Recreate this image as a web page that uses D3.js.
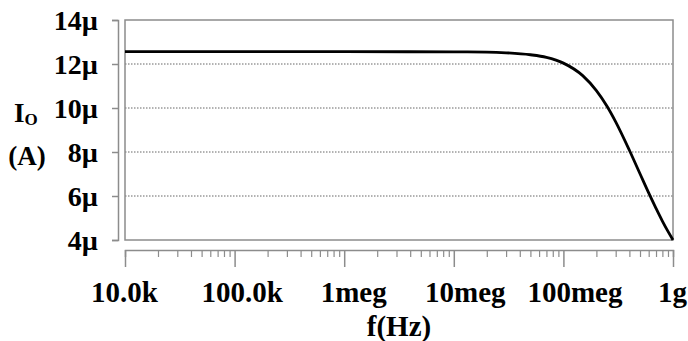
<!DOCTYPE html>
<html>
<head>
<meta charset="utf-8">
<script src="https://cdn.jsdelivr.net/npm/d3@7"></script>
<style>
  html, body { margin: 0; padding: 0; background: #fff; }
  svg { display: block; }
  svg text { font-family: "Liberation Serif", "Times New Roman", Times, serif !important; font-weight: bold; fill: #000; }
</style>
</head>
<body>
<svg id="chart" width="688" height="341"></svg>
<script>
// Output current magnitude vs. frequency (AC sweep)
const freqHz = [1e4, 1e5, 1e6, 1e7, 2e7, 3e7, 5e7, 7e7, 1e8, 1.5e8, 2e8, 2.5e8, 3e8, 4e8, 5e8, 6e8, 7e8, 8e8, 9e8, 1e9];
const ioMicroA = [12.56, 12.56, 12.56, 12.55, 12.54, 12.51, 12.42, 12.30, 12.04, 11.47, 10.79, 10.08, 9.37, 8.08, 7.01, 6.14, 5.44, 4.86, 4.39, 4.00];

const xTickValues = [1e4, 1e5, 1e6, 1e7, 1e8, 1e9];
const xTickLabels = ["10.0k", "100.0k", "1meg", "10meg", "100meg", "1g"];
const yTickValues = [4, 6, 8, 10, 12, 14];
const yTickLabels = ["4µ", "6µ", "8µ", "10µ", "12µ", "14µ"];
const yGridValues = [6, 8, 10, 12];

const serif = '"Liberation Serif", "Times New Roman", Times, serif';
const svg = d3.select("#chart");
const plotLeft = 125, plotRight = 673, plotTop = 20, plotBottom = 240;
const axisGray = "#8c8c8c";
// horizontal nudge of the decade labels relative to their ticks
const labelNudge = [-1, 7, 9, 11, 11, -1];

const x = d3.scaleLog().domain([1e4, 1e9]).range([plotLeft, plotRight]);
const y = d3.scaleLinear().domain([4, 14]).range([plotBottom, plotTop]);

// dotted horizontal grid lines
svg.append("g")
  .selectAll("line")
  .data(yGridValues)
  .join("line")
  .attr("x1", plotLeft).attr("x2", plotRight)
  .attr("y1", d => y(d)).attr("y2", d => y(d))
  .attr("stroke", "#666")
  .attr("stroke-width", 1)
  .attr("stroke-dasharray", "1.5,1.5");

// plot frame
svg.append("rect")
  .attr("x", plotLeft).attr("y", plotTop)
  .attr("width", plotRight - plotLeft).attr("height", plotBottom - plotTop)
  .attr("fill", "none")
  .attr("stroke", axisGray)
  .attr("stroke-width", 1.5);

// detached left axis
const yAxis = d3.axisLeft(y)
  .tickValues(yTickValues)
  .tickSize(6)
  .tickFormat((d, i) => yTickLabels[i]);
const gy = svg.append("g").attr("transform", "translate(118,0)").call(yAxis)
  .attr("font-family", serif);
gy.select(".domain").attr("stroke", axisGray).attr("stroke-width", 1.5);
gy.selectAll(".tick line").attr("stroke", axisGray).attr("stroke-width", 1.5);
gy.selectAll(".tick text")
  .attr("x", -20)
  .attr("dy", "0.33em")
  .style("font-size", "28px");

// detached bottom axis: minor ticks
const minorTicks = x.ticks().filter(d => !xTickValues.includes(d));
const xMinor = d3.axisBottom(x).tickValues(minorTicks).tickSize(7).tickFormat("");
const gxm = svg.append("g").attr("transform", "translate(0,250)").call(xMinor);
gxm.select(".domain").attr("stroke", axisGray).attr("stroke-width", 1.5);
gxm.selectAll(".tick line").attr("stroke", axisGray).attr("stroke-width", 1.2);

// bottom axis: decade ticks with labels
const xAxis = d3.axisBottom(x)
  .tickValues(xTickValues)
  .tickSize(17)
  .tickFormat((d, i) => xTickLabels[i]);
const gx = svg.append("g").attr("transform", "translate(0,250)").call(xAxis)
  .attr("font-family", serif);
gx.select(".domain").remove();
gx.selectAll(".tick line").attr("stroke", axisGray).attr("stroke-width", 1.5);
gx.selectAll(".tick text")
  .attr("x", (d, i) => labelNudge[i])
  .attr("y", 52)
  .attr("dy", 0)
  .style("font-size", "29px");

// axis titles
svg.append("text")
  .attr("x", 399).attr("y", 336)
  .attr("text-anchor", "middle")
  .style("font-size", "29px")
  .text("f(Hz)");

const io = svg.append("text")
  .attr("x", 14).attr("y", 122)
  .style("font-size", "27px");
io.append("tspan").text("I");
io.append("tspan").attr("dy", 3).style("font-size", "17px").text("O");

svg.append("text")
  .attr("x", 27).attr("y", 165)
  .attr("text-anchor", "middle")
  .style("font-size", "27px")
  .text("(A)");

// response curve
const line = d3.line()
  .x((d, i) => x(freqHz[i]))
  .y(d => y(d))
  .curve(d3.curveMonotoneX);

svg.append("path")
  .datum(ioMicroA)
  .attr("d", line)
  .attr("fill", "none")
  .attr("stroke", "#000")
  .attr("stroke-width", 2.8);
</script>
</body>
</html>
